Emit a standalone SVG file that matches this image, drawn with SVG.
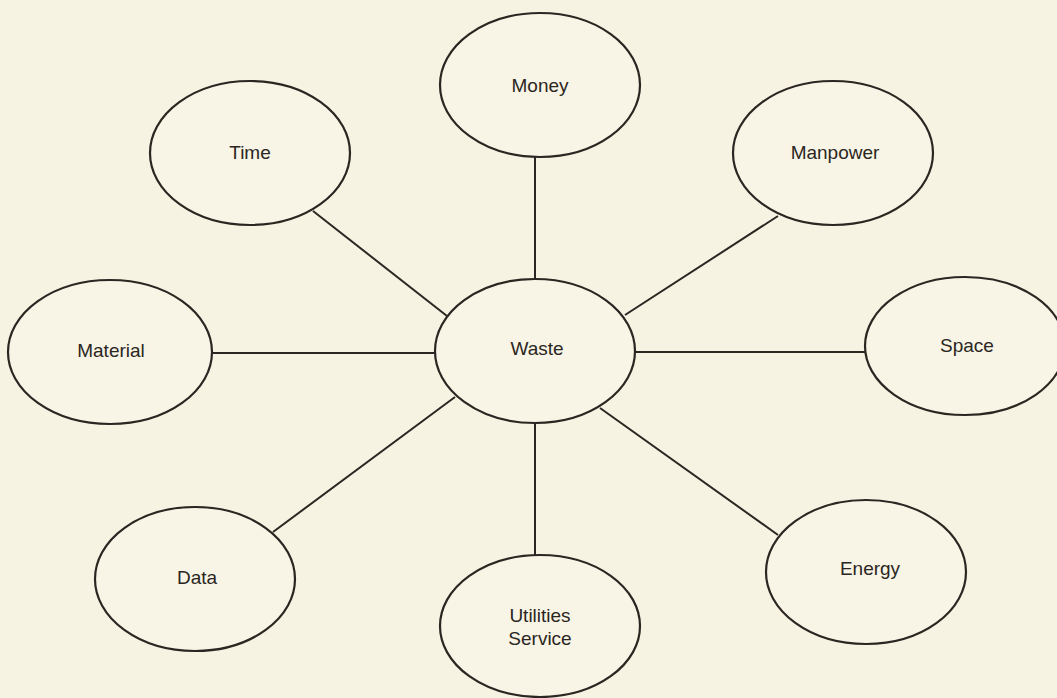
<svg xmlns="http://www.w3.org/2000/svg" width="1057" height="698" viewBox="0 0 1057 698">
<style>
.node ellipse{fill:#f8f5e6;stroke:#2b2622;stroke-width:2.2}
.node text{font-family:"Liberation Sans",Arial,sans-serif;font-size:19px;fill:#2b2622;text-anchor:middle;dominant-baseline:central}
.conn line{stroke:#2b2622;stroke-width:2}
</style>
<rect width="1057" height="698" fill="#f7f3e2"/>
<g id="connectors" class="conn">
<line x1="535" y1="157" x2="535" y2="279"/>
<line x1="313" y1="211" x2="447" y2="316"/>
<line x1="778" y1="216" x2="625" y2="315"/>
<line x1="212" y1="353" x2="434" y2="353"/>
<line x1="635" y1="352" x2="865" y2="352"/>
<line x1="455" y1="397" x2="273" y2="532"/>
<line x1="600" y1="408" x2="778" y2="535"/>
<line x1="535" y1="423" x2="535" y2="555"/>
</g>
<g id="money" class="node"><ellipse cx="540" cy="85" rx="100" ry="72"/><text x="540" y="85">Money</text></g>
<g id="time" class="node"><ellipse cx="250" cy="153" rx="100" ry="72"/><text x="250" y="152">Time</text></g>
<g id="manpower" class="node"><ellipse cx="833" cy="153" rx="100" ry="72"/><text x="835" y="152">Manpower</text></g>
<g id="material" class="node"><ellipse cx="110" cy="352" rx="102" ry="72"/><text x="111" y="350">Material</text></g>
<g id="waste" class="node"><ellipse cx="535" cy="351" rx="100" ry="72"/><text x="537" y="348">Waste</text></g>
<g id="space" class="node"><ellipse cx="965" cy="346" rx="100" ry="69"/><text x="967" y="345">Space</text></g>
<g id="data" class="node"><ellipse cx="195" cy="579" rx="100" ry="72"/><text x="197" y="577">Data</text></g>
<g id="utilities" class="node"><ellipse cx="540" cy="626" rx="100" ry="71"/><text x="540" y="615">Utilities</text><text x="540" y="638">Service</text></g>
<g id="energy" class="node"><ellipse cx="866" cy="572" rx="100" ry="72"/><text x="870" y="568">Energy</text></g>
</svg>
